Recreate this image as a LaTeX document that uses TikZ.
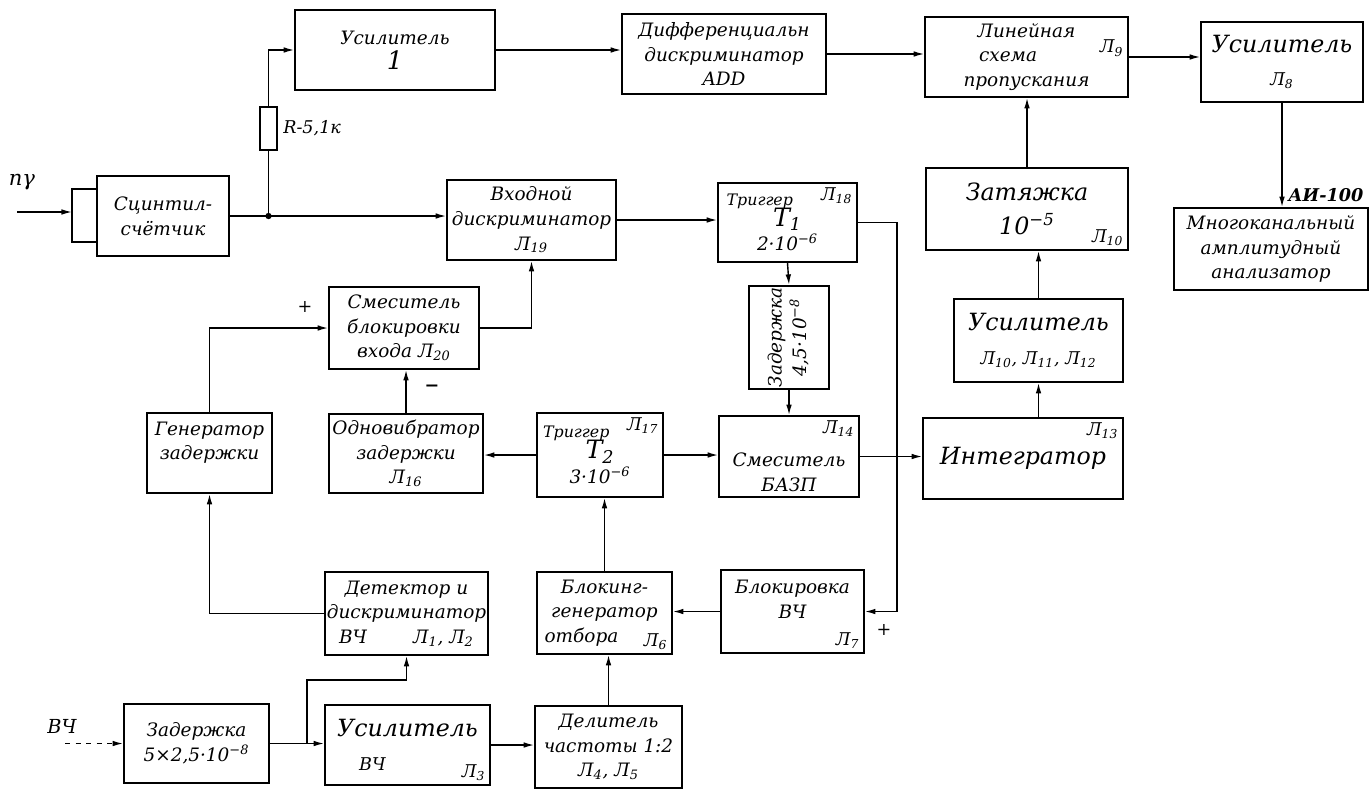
\documentclass[tikz,border=0pt]{standalone}
\usepackage{fontspec}
\setmainfont{DejaVu Serif}
\usetikzlibrary{arrows.meta}
\newcommand{\lamp}[1]{Л\textsubscript{#1}}

\tikzset{
  blk/.style 2 args={draw, line width=1pt, minimum width=#1*0.02cm, minimum height=#2*0.02cm,
    inner sep=1pt, align=center, font=\fontsize{10.5}{14}\selectfont\itshape},
  big/.style={font=\fontsize{13.5}{19}\selectfont\itshape},
  tag/.style={font=\fontsize{10}{12}\selectfont\itshape, inner sep=3pt},
  sig/.style={line width=0.8pt, -{Latex[length=6pt,width=3.2pt]}},
  wire/.style={line width=0.8pt},
}

\begin{document}
\begin{tikzpicture}[x=0.02cm, y=-0.02cm]
  \useasboundingbox (0,0) rectangle (1370,791);

  % upper chain
  \node[blk={132}{80}] (sc) at (163,216) {Сцинтил-\\счётчик};
  \node[blk={200}{80}] (amp1) at (395,50) {Усилитель\\{\Large 1}};
  \node[blk={204}{80}] (add) at (724,54) {Дифференциальн\\дискриминатор\\ADD};
  \node[blk={203}{80}, label={[tag,anchor=east,yshift=5pt]east:\lamp{9}}] (gate) at (1026.5,57) {Линейная\\\mbox{схема\hspace{2em}}\\пропускания};
  \node[blk={162}{80}, big] (amp8) at (1282,62) {Усилитель\\{\normalsize\lamp{8}}};
  \node[blk={194}{82}, label={[tag,anchor=south east,font=\fontsize{10}{12}\selectfont\bfseries\itshape]north east:АИ-100}] (mca) at (1271,249) {Многоканальный\\амплитудный\\анализатор};
  \node[blk={202}{82}, big, label={[tag,anchor=south east]south east:\lamp{10}}] (del10) at (1027,209) {Затяжка\\10\textsuperscript{−5}};
  \node[blk={169}{83}, big] (amp10) at (1038.5,340.5) {Усилитель\\{\normalsize\lamp{10}, \lamp{11}, \lamp{12}}};
  \node[blk={200}{81}, big, label={[tag,anchor=north east]north east:\lamp{13}}] (integ) at (1023,458.5) {Интегратор};

  % middle rows
  \node[blk={169}{80}] (indisc) at (531.5,220) {Входной\\дискриминатор\\\lamp{19}};
  \node[blk={139}{79}, inner sep=0pt, label={[tag,anchor=north east]north east:\lamp{18}}] (trig1) at (787.5,222.5) {\mbox{\small Триггер\hspace{3.5em}}\\[-2pt]{\Large T\textsubscript{1}}\\2·10\textsuperscript{−6}};
  \node[blk={80}{99}] (del45) at (789,337.5) {\rotatebox{90}{\begin{tabular}{@{}c@{}}Задержка\\4,5·10\textsuperscript{−8}\end{tabular}}};
  \node[blk={140}{81}, label={[tag,anchor=north east]north east:\lamp{14}}] (mixb) at (789,456.5) {\rule{0pt}{26pt}Смеситель\\БАЗП};
  \node[blk={126}{84}, inner sep=0pt, label={[tag,anchor=north east]north east:\lamp{17}}] (trig2) at (600,455) {\mbox{\small Триггер\hspace{3em}}\\[-2pt]{\Large T\textsubscript{2}}\\3·10\textsuperscript{−6}};
  \node[blk={154}{79}] (onev) at (406,453.5) {Одновибратор\\задержки\\\lamp{16}};
  \node[blk={150}{82}] (mixin) at (404,328) {Смеситель\\блокировки\\входа \lamp{20}};
  \node[blk={125}{80}] (gen) at (209.5,453) {Генератор\\задержки\\\mbox{}};

  % lower rows
  \node[blk={159}{83}] (det) at (406.5,613.5) {Детектор и\\дискриминатор\\ВЧ\hspace{2.5em}\lamp{1}, \lamp{2}};
  \node[blk={145}{79}] (del25) at (196.5,743.5) {Задержка\\5×2,5·10\textsuperscript{−8}};
  \node[blk={165}{80}, big, label={[tag,anchor=south east]south east:\lamp{3}}] (amphf) at (407.5,745) {Усилитель\\\mbox{\normalsize ВЧ\hspace{4em}}};
  \node[blk={147}{82}] (div) at (608.5,747) {Делитель\\частоты 1:2\\\lamp{4}, \lamp{5}};
  \node[blk={135}{82}, label={[tag,anchor=south east]south east:\lamp{6}}] (block) at (604.5,613) {Блокинг-\\генератор\\\mbox{отбора\hspace{2.5em}}};
  \node[blk={143}{83}, label={[tag,anchor=south east]south east:\lamp{7}}] (lock) at (792.5,611.5) {Блокировка\\ВЧ\\\mbox{}};

  % resistor and free labels
  \node[draw, line width=0.8pt, minimum width=17*0.02cm, minimum height=43*0.02cm, inner sep=0pt] (res) at (268.5,128.5) {};
  \node[tag, anchor=west] (rlab) at (res.east) {R-5,1к};
  \node[tag, font=\fontsize{12}{14}\selectfont\itshape] (ng) at (22,182) {nγ};
  \node[tag, font=\fontsize{11}{13}\selectfont\itshape] (hfin) at (62,726) {ВЧ};
  \node[tag] (plus1) at (305,307) {+};
  \node[tag] (minus) at (432,388) {\bfseries −};
  \node[tag] (plus2) at (884,630) {+};

  \coordinate (nin) at (17,212);
  \coordinate (brt) at (72,189);
  \coordinate (brb) at (72,242);
  \coordinate (jr) at (sc.east -| res.south);
  \coordinate (bus) at (897,220);
  \coordinate (jh) at (307,743.5);
  \coordinate (dk) at (det.south |- 0,680);
  \coordinate (hfs) at (65,743.5);

  % input of the counter
  \draw[sig] (nin) -- (brt |- nin);
  \draw[wire] (sc.west |- brt) -- (brt) -- (brb) -- (sc.west |- brb);
  \draw[sig] (sc.east) -- (sc.east -| indisc.west);
  \fill (jr) circle (1.8pt);
  \draw[wire] (jr) -- (res.south);
  \draw[sig] (res.north) |- (amp1.west);

  % spectrometric path
  \draw[sig] (amp1.east) -- (amp1.east -| add.west);
  \draw[sig] (add.east) -- (add.east -| gate.west);
  \draw[sig] (gate.east) -- (gate.east -| amp8.west);
  \draw[sig] (amp8.south) -- (amp8.south |- mca.north);
  \draw[sig] (del10.north) -- (del10.north |- gate.south);
  \draw[sig] (amp10.north) -- (amp10.north |- del10.south);
  \draw[sig] (amp10.south |- integ.north) -- (amp10.south);

  % trigger and mixers
  \draw[sig] (indisc.east) -- (indisc.east -| trig1.west);
  \draw[sig] (trig1.east) -| (bus |- lock.east) -- (lock.east);
  \draw[sig] (trig1.south) -- (del45.north);
  \draw[sig] (del45.south) -- (mixb.north);
  \draw[sig] (mixb.east) -- (mixb.east -| integ.west);
  \draw[sig] (trig2.east) -- (trig2.east -| mixb.west);
  \draw[sig] (trig2.west) -- (trig2.west -| onev.east);
  \draw[sig] (onev.north) -- (onev.north |- mixin.south);
  \draw[sig] (mixin.east) -| (indisc.south);
  \draw[sig] (gen.north) |- (mixin.west);
  \draw[sig] (det.west) -| (gen.south);

  % HF channel
  \draw[sig, dashed] (hfs) -- (del25.west);
  \draw[sig] (del25.east) -- (del25.east -| amphf.west);
  \draw[sig] (jh) |- (dk) -- (det.south);
  \draw[sig] (amphf.east) -- (amphf.east -| div.west);
  \draw[sig] (div.north) -- (div.north |- block.south);
  \draw[sig] (block.north) -- (block.north |- trig2.south);
  \draw[sig] (lock.west) -- (lock.west -| block.east);
\end{tikzpicture}
\end{document}
